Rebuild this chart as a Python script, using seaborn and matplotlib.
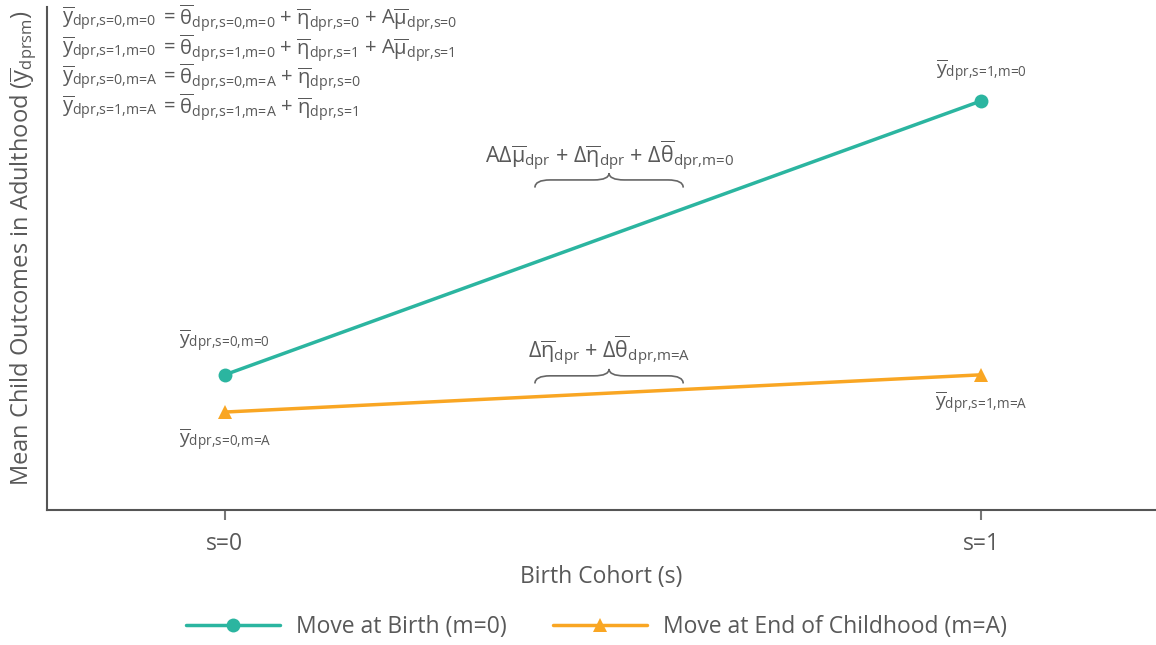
import matplotlib
matplotlib.use("Agg")
import matplotlib.pyplot as plt
import seaborn as sns
import pandas as pd
import numpy as np
from matplotlib.path import Path
from matplotlib.patches import PathPatch

# ---- data ----
cohorts = [0, 1]
cohort_labels = ["s=0", "s=1"]
move_birth = [2.65, 8.02]       # m=0
move_end = [1.92, 2.65]         # m=A
series_names = ["Move at Birth (m=0)", "Move at End of Childhood (m=A)"]

TEAL = "#2BB5A0"
ORANGE = "#F9A623"
GREY = "#595959"

sns.set_theme(style="white")
plt.rcParams["font.family"] = ["Open Sans", "DejaVu Sans"]
plt.rcParams["mathtext.fontset"] = "custom"
plt.rcParams["mathtext.rm"] = "Open Sans"
plt.rcParams["mathtext.it"] = "Open Sans"
plt.rcParams["mathtext.bf"] = "Open Sans:bold"
plt.rcParams["text.color"] = GREY
plt.rcParams["axes.labelcolor"] = GREY
plt.rcParams["xtick.color"] = GREY

df = pd.DataFrame({
    "s": cohorts * 2,
    "value": move_birth + move_end,
    "series": [series_names[0]] * 2 + [series_names[1]] * 2,
})

fig = plt.figure(figsize=(11.56, 6.45), dpi=100)
W, H = 1156, 645
ax = fig.add_axes([47 / W, 1 - 510 / H, 1 - 47 / W, (510 - 7) / H])

sns.lineplot(data=df, x="s", y="value", hue="series", style="series",
             markers={series_names[0]: "o", series_names[1]: "^"},
             dashes=False, palette=[TEAL, ORANGE], linewidth=2.5,
             markersize=10, markeredgewidth=0, ax=ax)

ax.set_xlim(-0.235, 1.231)
ax.set_ylim(0, 9.86)
ax.set_xticks(cohorts)
ax.set_xticklabels(cohort_labels, fontsize=16.5, color=GREY)
ax.set_yticks([])
ax.tick_params(axis="x", direction="out", length=7, width=1.5, color="#777777", pad=9, bottom=True)
for sp in ["top", "right"]:
    ax.spines[sp].set_visible(False)
for sp in ["left", "bottom"]:
    ax.spines[sp].set_color("#555555")
    ax.spines[sp].set_linewidth(1.5)

ax.set_xlabel("Birth Cohort (s)", fontsize=16.5, labelpad=6)
ax.set_ylabel(r"Mean Child Outcomes in Adulthood ($\overline{\mathrm{y}}_{\text{dprsm}}$)",
              fontsize=17)
ax.yaxis.set_label_coords(-0.007, 0.52)

# legend
leg = ax.get_legend()
handles, labels = ax.get_legend_handles_labels()
leg.remove()
fig.legend(handles, labels, loc="center", bbox_to_anchor=(0.516, 1 - 627 / H), ncol=2,
           frameon=False, fontsize=16.5, handlelength=4.1, columnspacing=2.0,
           handletextpad=0.7)

def yb(sub):
    return r"$\overline{\mathrm{y}}_{\text{" + sub + "}}$"

def th(sub):
    return r"$\overline{\mathrm{\theta}}_{\text{" + sub + "}}$"

def eta(sub):
    return r"$\overline{\mathrm{\eta}}_{\text{" + sub + "}}$"

def mu(sub):
    return r"$\mathrm{A}\overline{\mathrm{\mu}}_{\text{" + sub + "}}$"

# equation block
eqs = [
    ("dpr,s=0,m=0", th("dpr,s=0,m=0") + " + " + eta("dpr,s=0") + " + " + mu("dpr,s=0")),
    ("dpr,s=1,m=0", th("dpr,s=1,m=0") + " + " + eta("dpr,s=1") + " + " + mu("dpr,s=1")),
    ("dpr,s=0,m=A", th("dpr,s=0,m=A") + " + " + eta("dpr,s=0")),
    ("dpr,s=1,m=A", th("dpr,s=1,m=A") + " + " + eta("dpr,s=1")),
]
for i, (lhs, rhs) in enumerate(eqs):
    yp = 18 + i * 29.7
    fig.text(62 / W, 1 - yp / H, yb(lhs), fontsize=14.5, va="center", ha="left")
    fig.text(163 / W, 1 - yp / H, "= " + rhs, fontsize=14.5, va="center", ha="left")

# point labels
lab_kw = dict(fontsize=14, ha="center", va="center")
ax.text(0, move_birth[0] + 0.66, yb("dpr,s=0,m=0"), **lab_kw)
ax.text(0, move_end[0] - 0.55, yb("dpr,s=0,m=A"), **lab_kw)
ax.text(1, move_birth[1] + 0.58, yb("dpr,s=1,m=0"), **lab_kw)
ax.text(1, move_end[1] - 0.56, yb("dpr,s=1,m=A"), **lab_kw)

# annotations with braces
def brace(x0, x1, y, h=0.15):
    xm = (x0 + x1) / 2
    c = 0.02
    verts = [
        (x0, y - h), (x0, y), (x0 + c, y),
        (xm - c, y), (xm, y), (xm, y + h * 0.9),
        (xm, y), (xm + c, y),
        (x1 - c, y), (x1, y), (x1, y - h),
    ]
    codes = [Path.MOVETO, Path.CURVE3, Path.CURVE3,
             Path.LINETO, Path.CURVE3, Path.CURVE3,
             Path.CURVE3, Path.CURVE3,
             Path.LINETO, Path.CURVE3, Path.CURVE3]
    ax.add_patch(PathPatch(Path(verts, codes), fill=False, edgecolor="#666666", lw=1.2))

bx0, bx1 = 0.41, 0.606
brace(bx0, bx1, 6.47)
brace(bx0, bx1, 2.63)

ax.text((bx0 + bx1) / 2, 6.95,
        r"$\mathrm{A\Delta}\overline{\mathrm{\mu}}_{\text{dpr}}$ + $\mathrm{\Delta}\overline{\mathrm{\eta}}_{\text{dpr}}$ + $\mathrm{\Delta}\overline{\mathrm{\theta}}_{\text{dpr,m=0}}$",
        fontsize=15.5, ha="center", va="center")
ax.text((bx0 + bx1) / 2, 3.13,
        r"$\mathrm{\Delta}\overline{\mathrm{\eta}}_{\text{dpr}}$ + $\mathrm{\Delta}\overline{\mathrm{\theta}}_{\text{dpr,m=A}}$",
        fontsize=15.5, ha="center", va="center")

fig.savefig("out.png", dpi=100)
